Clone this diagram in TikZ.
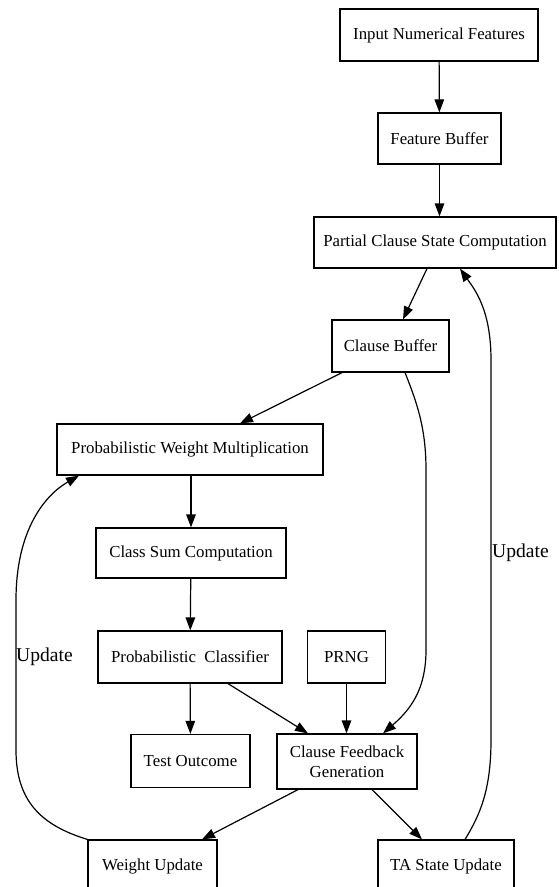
\documentclass[tikz,border=0pt]{standalone}
\usepackage{fontspec}
\setmainfont{Liberation Serif}
\usetikzlibrary{arrows.meta}
\begin{document}
\begin{tikzpicture}[x=1pt,y=-1pt,
  box/.style={draw, line width=1.2pt, rectangle, inner sep=0pt, align=center,
    font=\fontsize{16.8pt}{20pt}\selectfont},
  arr/.style={draw, line width=1.2pt, -{Triangle[length=13pt,width=9.5pt]}},
  lbl/.style={font=\fontsize{19.6pt}{22pt}\selectfont, inner sep=0pt}]
\useasboundingbox (0,0) rectangle (558,887);
\clip (0,0) rectangle (558,887);
\node[box, minimum width=198pt, minimum height=52pt] (inf) at (439,35) {Input Numerical Features};
\node[box, minimum width=123pt, minimum height=51pt] (fb) at (439.5,138.5) {Feature Buffer};
\node[box, minimum width=242pt, minimum height=51pt] (pcsc) at (435,242.5) {Partial Clause State Computation};
\node[box, minimum width=117pt, minimum height=52pt] (cb) at (390.5,346) {Clause Buffer};
\node[box, minimum width=266pt, minimum height=51pt] (pwm) at (190,449.5) {Probabilistic Weight Multiplication};
\node[box, minimum width=190pt, minimum height=50pt] (csc) at (191,553) {Class Sum Computation};
\node[box, minimum width=184pt, minimum height=52pt] (pc) at (190,657) {Probabilistic\ \ Classifier};
\node[box, minimum width=78pt, minimum height=52pt] (prng) at (346.5,657) {PRNG};
\node[box, minimum width=119pt, minimum height=53pt] (to) at (190.5,761) {Test Outcome};
\node[box, minimum width=140pt, minimum height=55pt] (cfg) at (347,761.5) {Clause Feedback\\Generation};
\node[box, minimum width=129pt, minimum height=52pt] (wu) at (152.5,866) {Weight Update};
\node[box, minimum width=136pt, minimum height=52pt] (ta) at (446,866) {TA State Update};

\draw[arr] (inf) -- (fb);
\draw[arr] (fb.south) -- (fb.south |- pcsc.north);
\draw[arr] ([xshift=-8pt]pcsc.south) -- ([xshift=12.5pt]cb.north);
\draw[arr] ([xshift=-48.5pt]cb.south) -- ([xshift=50pt]pwm.north);
\draw[arr] ([xshift=14.5pt]cb.south) .. controls (418,405) and (426,430) .. (426,470)
  -- (426,650) .. controls (426,690) and (410,710) .. ([xshift=36pt]cfg.north);
\draw[arr] ([xshift=1pt]pwm.south) -- (csc);
\draw[arr] (csc) -- (pc);
\draw[arr] (pc) -- (to);
\draw[arr] ([xshift=38pt]pc.south) -- ([xshift=-39pt]cfg.north);
\draw[arr] (prng) -- (prng.south |- cfg.north);
\draw[arr] ([xshift=-49pt]cfg.south) -- ([xshift=49.5pt]wu.north);
\draw[arr] ([xshift=25pt]cfg.south) -- ([xshift=-24pt]ta.north);
\draw[arr] (wu.north west) .. controls (40,825) and (16,800) .. (16,750)
  -- (16,600) .. controls (16,530) and (45,495) .. ([xshift=-111pt]pwm.south);
\draw[arr] ([xshift=19pt]ta.north) .. controls (480,815) and (491,790) .. (491,740)
  -- (491,360) .. controls (491,310) and (475,290) .. ([xshift=25pt]pcsc.south);
\node[lbl, anchor=west] (l1) at (16,657) {Update};
\node[lbl, anchor=west] (l2) at (492,553) {Update};
\end{tikzpicture}
\end{document}
